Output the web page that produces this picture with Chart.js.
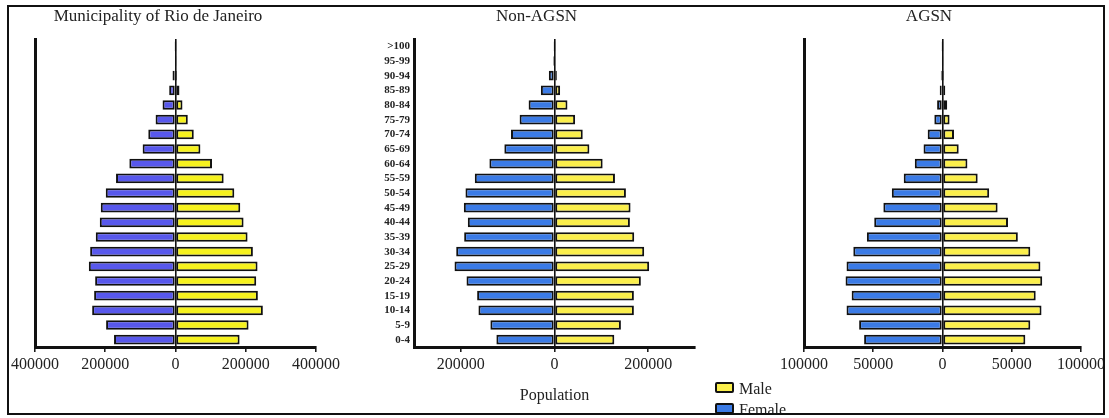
<!DOCTYPE html>
<html>
<head>
<meta charset="utf-8">
<script src="https://cdn.jsdelivr.net/npm/chart.js@4.4.1/dist/chart.umd.min.js"></script>
<style>
  body { margin: 0; background: #fff; width: 1109px; height: 418px; position: relative; overflow: hidden; }
  canvas { position: absolute; top: 0; }
  #frame { position: absolute; left: 7px; top: 5px; width: 1094px; height: 406px; border: 2px solid #111; pointer-events: none; }
  .key { position: absolute; font-family: "Liberation Serif", serif; font-size: 16px; color: #222; line-height: 18px; }
  .key span { display: inline-block; width: 15px; height: 7px; border: 2px solid #111; border-radius: 2px; margin-right: 5px; vertical-align: 1px; }
</style>
</head>
<body>
<canvas id="rio" width="370" height="418" style="left:0px"></canvas>
<canvas id="nonagsn" width="370" height="418" style="left:378px"></canvas>
<canvas id="agsn" width="332" height="418" style="left:777px"></canvas>
<div class="key" style="left:715px;top:380px"><span style="background:#fbef4c"></span>Male</div>
<div class="key" style="left:715px;top:401px"><span style="background:#3b7be6"></span>Female</div>
<div id="frame"></div>
<script>
// age groups, youngest first (drawn bottom to top)
const ageGroups = ['0-4','5-9','10-14','15-19','20-24','25-29','30-34','35-39','40-44','45-49','50-54','55-59','60-64','65-69','70-74','75-79','80-84','85-89','90-94','95-99','>100'];

const rioMale   = [182500,208000,248700,234500,229800,233600,220300,205200,193800,184400,167400,137100,104000,70900,52000,35000,19900,11300,4500,1000,200];
const rioFemale = [175000,197600,237300,231700,228800,246800,243000,227000,215600,212800,198600,169300,131400,93600,77500,56700,36900,18000,8500,2500,500];

const nonMale   = [127700,141800,169500,169500,184400,202100,191500,170200,161000,162400,152500,129100,102800,74500,60300,44000,27700,12000,5000,1500,300];
const nonFemale = [124100,136900,162400,165200,187900,213500,209900,192900,185100,193600,190100,170200,139000,107100,92900,74500,55300,29100,12100,3000,500];

const agsnMale   = [59800,63400,71500,67300,72000,70700,63400,54400,47300,39800,33700,25400,18000,11700,8300,5100,3400,2000,1000,400,100];
const agsnFemale = [56600,60200,69300,65600,70000,69300,64400,54600,49300,42700,36600,28000,20000,13700,10700,5900,3900,2000,1200,500,100];

const rioTicks = [-400000, -200000, 0, 200000, 400000];
const nonTicks = [-200000, 0, 200000];
const agsnTicks = [-100000, -50000, 0, 50000, 100000];

const serif = '"Liberation Serif", "Times New Roman", serif';

function pyramid(id, title, female, male, femaleColor, maleColor, limit, tickValues, yWidth, padRight, showAges, xTitle) {
  const bar = {
    borderColor: '#111',
    borderWidth: 2,
    borderSkipped: false,
    barPercentage: 0.66,
    categoryPercentage: 1
  };
  new Chart(document.getElementById(id), {
    type: 'bar',
    data: {
      labels: ageGroups,
      datasets: [
        Object.assign({ label: 'Female', data: female.map(v => -v), backgroundColor: femaleColor }, bar),
        Object.assign({ label: 'Male', data: male, backgroundColor: maleColor }, bar)
      ]
    },
    options: {
      indexAxis: 'y',
      responsive: false,
      animation: false,
      layout: { padding: { left: 0, right: padRight, top: 0, bottom: 0 } },
      plugins: {
        legend: { display: false },
        tooltip: { enabled: false },
        title: {
          display: true,
          text: title,
          color: '#222',
          font: { family: serif, size: 17, weight: 'normal' },
          padding: { top: 6, bottom: 12.6 }
        }
      },
      scales: {
        x: {
          stacked: true,
          min: -limit,
          max: limit,
          afterBuildTicks: (scale) => { scale.ticks = tickValues.map(v => ({ value: v })); },
          afterFit: (scale) => { scale.height = 71; },
          grid: {
            drawOnChartArea: true,
            color: (ctx) => (ctx.tick && ctx.tick.value === 0) ? '#111' : 'rgba(0,0,0,0)',
            lineWidth: 1.6,
            tickColor: '#111',
            tickLength: 5,
            tickWidth: 1.5
          },
          border: { display: true, color: '#111', width: 3 },
          ticks: {
            color: '#222',
            font: { family: serif, size: 16 },
            maxRotation: 0,
            callback: (v) => Math.abs(v)
          },
          title: {
            display: !!xTitle,
            text: xTitle || '',
            color: '#222',
            font: { family: serif, size: 16 },
            padding: { top: 0, bottom: 12.4 }
          }
        },
        y: {
          stacked: true,
          reverse: true,
          afterFit: (scale) => { scale.width = yWidth; },
          grid: { display: false, drawTicks: false },
          border: { display: true, color: '#111', width: 3 },
          ticks: {
            display: showAges,
            autoSkip: false,
            color: '#222',
            padding: 4,
            font: { family: serif, size: 11, weight: 'bold' }
          }
        }
      }
    }
  });
}

pyramid('rio', 'Municipality of Rio de Janeiro', rioFemale, rioMale, '#5858ec', '#f6f21e', 400000, rioTicks, 35, 54, false, null);
pyramid('nonagsn', 'Non-AGSN', nonFemale, nonMale, '#3b7be6', '#fbef4c', 300000, nonTicks, 36, 53, true, 'Population');
pyramid('agsn', 'AGSN', agsnFemale, agsnMale, '#3b7be6', '#fbef4c', 100000, agsnTicks, 24, 28, false, null);
</script>
</body>
</html>
